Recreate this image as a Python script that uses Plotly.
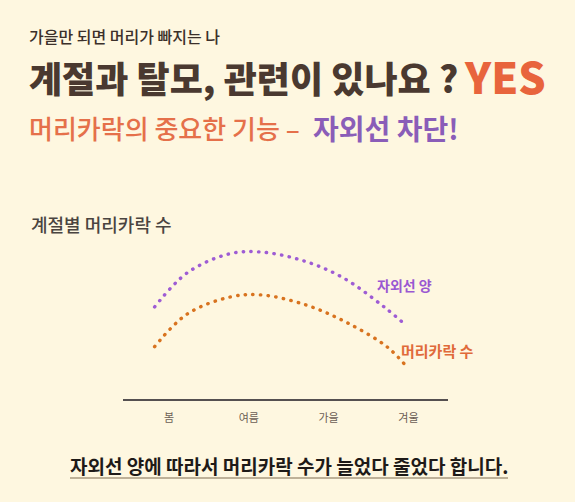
import plotly.graph_objects as go

# ---- data ----
seasons = ["봄", "여름", "가을", "겨울"]
season_pos = [0, 1, 2, 3]

# dotted curves: position along the season axis and relative level
uv_x = [-0.18, 0.23, 0.75, 1.14, 1.68, 2.18, 2.69, 2.95]
uv_y = [57.9, 79.4, 91.2, 92.5, 87.0, 76.3, 58.1, 47.2]
hair_x = [-0.18, 0.23, 0.78, 1.17, 1.73, 2.23, 2.73, 2.97]
hair_y = [32.9, 53.5, 64.3, 65.4, 58.9, 48.0, 32.9, 20.8]

series_names = ["자외선 양", "머리카락 수"]

# ---- layout helpers ----
W, H = 575, 502
PL, PR, PT, PB = 123, 448, 240, 399   # plot area in pixels
BG = "#FEF7E0"
FONT = "Noto Sans CJK KR"
PURPLE_DOT = "#9E5CD4"
ORANGE_DOT = "#D8731F"


def px(x):
    return (x - PL) / (PR - PL)


def py(y):
    return (PB - y) / (PB - PT)


fig = go.Figure()
fig.add_trace(go.Scatter(x=uv_x, y=uv_y, mode="lines", name=series_names[0],
                         line=dict(color=PURPLE_DOT, width=3.4, shape="spline",
                                   dash="3px,4.5px"), hoverinfo="skip"))
fig.add_trace(go.Scatter(x=hair_x, y=hair_y, mode="lines", name=series_names[1],
                         line=dict(color=ORANGE_DOT, width=3.4, shape="spline",
                                   dash="3px,4.5px"), hoverinfo="skip"))

ann = []


def text(x, y, s, size, color, anchor="left", weight="normal"):
    ann.append(dict(x=px(x), y=py(y), xref="paper", yref="paper", text=s,
                    showarrow=False, xanchor=anchor, yanchor="middle",
                    font=dict(family=FONT, size=size, color=color,
                              weight=weight)))


text(27, 36, "가을만 되면 머리가 빠지는 나", 16, "#3C302A", weight=500)
text(27, 77, "계절과 탈모, 관련이 있나요 ?", 36, "#4A3930", weight=900)
text(462, 75, "YES", 43, "#E8643C", weight=900)
text(27, 128, "머리카락의 중요한 기능 –", 26, "#E5704A", weight=500)
text(311, 128, "자외선 차단!", 28, "#8A5DB8", weight="bold")
text(29, 224, "계절별 머리카락 수", 18, "#4A4440", weight=500)
text(375, 285, series_names[0], 14, "#9A58D2", weight="bold")
text(399, 350, series_names[1], 15, "#E06A3A", weight="bold")
text(289, 465, "자외선 양에 따라서 머리카락 수가 늘었다 줄었다 합니다.", 19,
     "#1E1A18", anchor="center", weight="bold")

fig.update_layout(
    width=W, height=H,
    margin=dict(l=PL, r=W - PR, t=PT, b=H - PB, pad=0),
    paper_bgcolor=BG, plot_bgcolor=BG,
    showlegend=False,
    annotations=ann,
    shapes=[dict(type="line", xref="paper", yref="paper",
                 x0=px(70), x1=px(508), y0=py(478), y1=py(478),
                 line=dict(color="#A89A80", width=1.5))],
    xaxis=dict(range=[-0.576, 3.496], tickmode="array", tickvals=season_pos,
               ticktext=seasons, showgrid=False, zeroline=False,
               showline=True, linecolor="#555050", linewidth=2,
               ticks="", ticklabelstandoff=8,
               tickfont=dict(family=FONT, size=11, color="#6B5E55")),
    yaxis=dict(range=[0, 100], visible=False, showgrid=False, zeroline=False),
)

post = """
document.body.style.margin = '0';
document.body.style.background = '#FEF7E0';
var gd = document.getElementById('{plot_id}');
gd.querySelectorAll('path.js-line').forEach(function(p){
  p.style.strokeLinecap = 'round';
  p.style.strokeDasharray = '0.4px,7.3px';
});
"""
fig.write_html("out.html", post_script=post,
               config={"displayModeBar": False, "staticPlot": True})
